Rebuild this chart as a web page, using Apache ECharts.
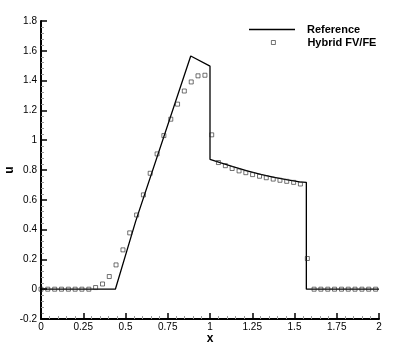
<!DOCTYPE html>
<html>
<head>
<meta charset="utf-8">
<script src="https://cdn.jsdelivr.net/npm/echarts@6/dist/echarts.min.js"></script>
<style>
html, body { margin: 0; padding: 0; background: #fff; }
#chart { width: 407px; height: 362px; }
</style>
</head>
<body>
<div id="chart"></div>
<script>
// reference solution (exact curve)
var refX = [0, 0.44, 0.56, 0.886, 1.0, 1.0, 1.06, 1.14, 1.22, 1.30, 1.38, 1.46, 1.53, 1.57, 1.57, 2.0];
var refY = [0, 0, 0.455, 1.565, 1.497, 0.872, 0.850, 0.821, 0.794, 0.770, 0.750, 0.733, 0.720, 0.717, 0, 0];

// hybrid FV/FE solution points
var fvX = [0, 0.040, 0.081, 0.121, 0.162, 0.202, 0.242, 0.283, 0.323, 0.364,
	0.404, 0.444, 0.485, 0.525, 0.566, 0.606, 0.646, 0.687, 0.727, 0.768,
	0.808, 0.848, 0.889, 0.929, 0.970, 1.010, 1.050, 1.091, 1.131, 1.172,
	1.212, 1.252, 1.293, 1.333, 1.374, 1.414, 1.454, 1.495, 1.535, 1.576,
	1.616, 1.656, 1.697, 1.737, 1.778, 1.818, 1.858, 1.899, 1.939, 1.980];
var fvY = [0, 0, 0, 0, 0, 0, 0, 0, 0.011, 0.035,
	0.085, 0.163, 0.264, 0.378, 0.498, 0.633, 0.778, 0.908, 1.031, 1.141,
	1.242, 1.330, 1.391, 1.432, 1.436, 1.036, 0.850, 0.829, 0.810, 0.794,
	0.782, 0.769, 0.758, 0.748, 0.739, 0.731, 0.724, 0.717, 0.706, 0.206,
	0, 0, 0, 0, 0, 0, 0, 0, 0, 0];

var seriesNames = ["Reference", "Hybrid FV/FE"];

function pairs(xs, ys)
{
	var out = [];
	for (var i = 0; i < xs.length; i++) out.push([xs[i], ys[i]]);
	return out;
}

var FONT = "Liberation Sans";

var chart = echarts.init(document.getElementById("chart"), null, {renderer: "canvas"});

var axisCommon = {
	axisLine: {onZero: false, lineStyle: {color: "#000", width: 2}},
	axisTick: {inside: true, length: 6, lineStyle: {color: "#000", width: 1.5}},
	minorTick: {show: true, splitNumber: 5, length: 3, lineStyle: {color: "#999", width: 1}},
	splitLine: {show: false},
	axisLabel: {color: "#000", fontFamily: FONT, fontSize: 10},
	nameMoveOverlap: false,
	nameTextStyle: {color: "#000", fontFamily: FONT, fontSize: 12, fontWeight: "bold"}
};

var legendText = {color: "#000", fontFamily: FONT, fontSize: 11, fontWeight: "bold"};

chart.setOption({
	animation: false,
	backgroundColor: "#fff",
	grid: {left: 41, right: 28, top: 21, bottom: 43, containLabel: false, outerBoundsMode: "none"},
	legend: [
		{
			left: 249, top: 24, padding: 0,
			itemWidth: 46, itemHeight: 1.3,
			icon: "rect",
			textStyle: Object.assign({}, legendText, {padding: [0, 0, 0, 7]}),
			data: [{name: seriesNames[0], itemStyle: {color: "#000"}}]
		},
		{
			left: 271, top: 37, padding: 0,
			itemWidth: 4, itemHeight: 4,
			icon: "rect",
			textStyle: Object.assign({}, legendText, {padding: [0, 0, 0, 27]}),
			data: [{name: seriesNames[1], itemStyle: {color: "transparent", borderColor: "#222", borderWidth: 0.8}}]
		}
	],
	xAxis: Object.assign({}, axisCommon, {
		type: "value",
		min: 0, max: 2, interval: 0.25,
		name: "x", nameLocation: "middle", nameGap: 14,
		axisLabel: Object.assign({}, axisCommon.axisLabel, {margin: 3})
	}),
	yAxis: Object.assign({}, axisCommon, {
		type: "value",
		min: -0.2, max: 1.8, interval: 0.2,
		name: "u", nameLocation: "middle", nameGap: 25,
		axisLabel: Object.assign({}, axisCommon.axisLabel, {margin: 4})
	}),
	series: [
		{
			name: seriesNames[0],
			type: "line",
			data: pairs(refX, refY),
			symbol: "none",
			lineStyle: {color: "#000", width: 1.3},
			itemStyle: {color: "#000"},
			z: 2
		},
		{
			name: seriesNames[1],
			type: "scatter",
			data: pairs(fvX, fvY),
			symbol: "rect",
			symbolSize: 4,
			itemStyle: {color: "transparent", borderColor: "#222", borderWidth: 0.8},
			z: 3
		}
	]
});
</script>
</body>
</html>
